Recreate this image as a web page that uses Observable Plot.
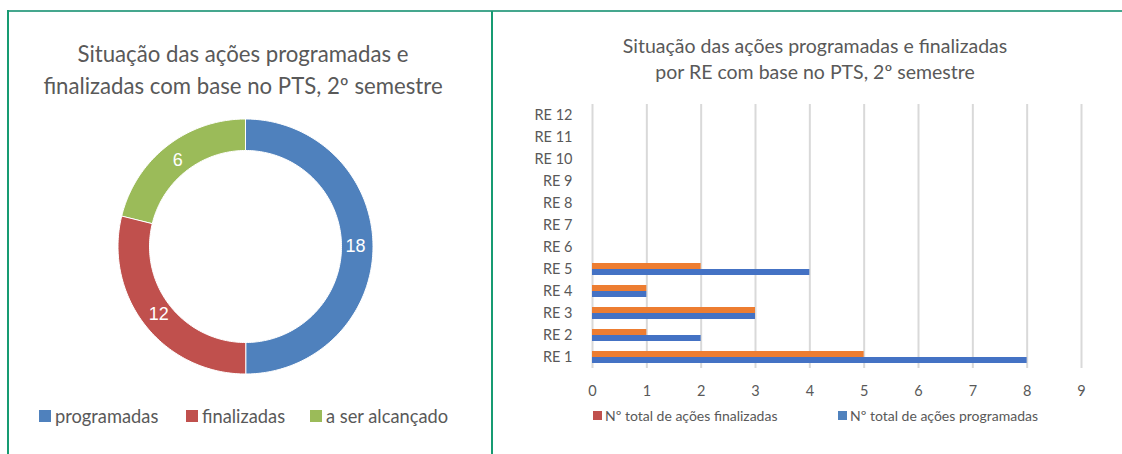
<!DOCTYPE html>
<html><head><meta charset="utf-8">
<script src="https://cdn.jsdelivr.net/npm/d3@7"></script>
<script src="https://cdn.jsdelivr.net/npm/@observablehq/plot@0.6"></script>
<style>
body{margin:0;background:#fff;}
#root{position:relative;width:1122px;height:454px;overflow:hidden;font-family:Lato,sans-serif;color:#595959;background:#fff;}
.abs{position:absolute;}
.title{position:absolute;text-align:center;white-space:nowrap;}
.lg{position:absolute;display:flex;align-items:center;white-space:nowrap;}
.sw{display:inline-block;}
</style></head><body><div id="root"></div>
<script>
// ---- Donut data ----
const donutCategories = ["programadas", "finalizadas", "a ser alcançado"];
const donutSlices = [18, 10.4, 7.6];          // slice sizes as drawn in the picture
const donutLabels = ["18", "12", "6"];        // value labels printed on the slices
const donutColors = ["#4F81BD", "#C0504D", "#9BBB59"];

// ---- Bar data ----
const regions = ["RE 1","RE 2","RE 3","RE 4","RE 5","RE 6","RE 7","RE 8","RE 9","RE 10","RE 11","RE 12"];
const finalizadas = [5, 1, 3, 1, 2, 0, 0, 0, 0, 0, 0, 0];
const programadas = [8, 2, 3, 1, 4, 0, 0, 0, 0, 0, 0, 0];
const seriesNames = ["Nº total de ações finalizadas", "Nº total de ações programadas"];
const barColors = ["#ED7D31", "#4472C4"];
const barLegendColors = ["#C0504D", "#4F81BD"];
const xTicks = [0, 1, 2, 3, 4, 5, 6, 7, 8, 9];

const root = document.getElementById("root");
function el(tag, cls, css, html) {
  const e = document.createElement(tag);
  if (cls) e.className = cls;
  Object.assign(e.style, css || {});
  if (html != null) e.innerHTML = html;
  root.appendChild(e);
  return e;
}

// borders
el("div", "abs", {left: "8px", top: "10px", width: "1114px", height: "2px", background: "#45a78e"});
el("div", "abs", {left: "7px", top: "10px", width: "2px", height: "444px", background: "#169b72"});
el("div", "abs", {left: "491px", top: "11px", width: "2px", height: "443px", background: "#169b72"});

// ---- Left panel ----
el("div", "title", {left: "0px", width: "486px", top: "38px", fontSize: "22.2px", lineHeight: "32px"},
  "Situação das ações programadas e<br>finalizadas com base no PTS, 2º semestre");

const pie = d3.pie().sort(null).value(d => d)(donutSlices);
const rOut = 127.5, rIn = 96, rLab = 110;
const ringPts = [];
const labelPts = [];
pie.forEach((p, i) => {
  const n = Math.max(8, Math.ceil((p.endAngle - p.startAngle) / 0.02));
  for (let k = 0; k <= n; k++) {
    const a = p.startAngle + (p.endAngle - p.startAngle) * k / n;
    ringPts.push({cat: donutCategories[i], x: rOut * Math.sin(a), y: rOut * Math.cos(a)});
  }
  for (let k = n; k >= 0; k--) {
    const a = p.startAngle + (p.endAngle - p.startAngle) * k / n;
    ringPts.push({cat: donutCategories[i], x: rIn * Math.sin(a), y: rIn * Math.cos(a)});
  }
  const m = (p.startAngle + p.endAngle) / 2;
  labelPts.push({cat: donutCategories[i], label: donutLabels[i], x: rLab * Math.sin(m), y: rLab * Math.cos(m)});
});

const donut = Plot.plot({
  width: 490, height: 300, margin: 0,
  x: {domain: [-245, 245], axis: null},
  y: {domain: [-154, 146], axis: null},
  color: {domain: donutCategories, range: donutColors},
  style: {background: "transparent", overflow: "visible"},
  marks: [
    Plot.line(ringPts, {x: "x", y: "y", z: "cat", fill: "cat", stroke: "#ffffff", strokeWidth: 1, curve: "linear-closed"}),
    Plot.text(labelPts, {x: "x", y: "y", text: "label", fill: "#ffffff", fontSize: 18, fontFamily: "Liberation Sans, Arial, sans-serif"})
  ]
});
const dwrap = el("div", "abs", {left: "0px", top: "100px"});
dwrap.appendChild(donut);

const leftLegendX = [39, 186, 310];
donutCategories.forEach((c, i) => {
  const d = el("div", "lg", {left: leftLegendX[i] + "px", top: "405px", height: "22px", fontSize: "18.3px"});
  d.innerHTML = `<span class="sw" style="width:12px;height:12px;background:${donutColors[i]};margin-right:4px"></span>${c}`;
});

// ---- Right panel ----
el("div", "title", {left: "560px", width: "510px", top: "33px", fontSize: "19.5px", lineHeight: "26px"},
  "Situação das ações programadas e finalizadas<br>por RE com base no PTS, 2º semestre");

const barData = regions.flatMap((r, i) => [
  {re: r, series: seriesNames[0], value: finalizadas[i]},
  {re: r, series: seriesNames[1], value: programadas[i]}
]);

const bars = Plot.plot({
  width: 580, height: 310,
  marginLeft: 72, marginRight: 19, marginTop: 7, marginBottom: 35,
  x: {domain: [0, 9], ticks: xTicks, tickSize: 0, tickPadding: 17, label: null},
  fy: {domain: regions.slice().reverse(), padding: 0, label: null, tickSize: 0, tickPadding: 20, axis: "left"},
  y: {domain: seriesNames, paddingInner: 0, paddingOuter: 0.66, axis: null},
  color: {domain: seriesNames, range: barColors},
  style: {fontFamily: "Lato, sans-serif", fontSize: "14.5px", color: "#595959", background: "transparent", overflow: "visible"},
  marks: [
    Plot.gridX(xTicks, {stroke: "#d9d9d9", strokeOpacity: 1, strokeWidth: 2}),
    Plot.barX(barData, {fy: "re", y: "series", x: "value", fill: "series", inset: 0})
  ]
});
const bwrap = el("div", "abs", {left: "520px", top: "95px"});
bwrap.appendChild(bars);

const rightLegendX = [593, 838];
seriesNames.forEach((s, i) => {
  const d = el("div", "lg", {left: rightLegendX[i] + "px", top: "406px", height: "18px", fontSize: "14px"});
  d.innerHTML = `<span class="sw" style="width:9px;height:9px;background:${barLegendColors[i]};margin-right:3px"></span>${s}`;
});
</script>
</body></html>
